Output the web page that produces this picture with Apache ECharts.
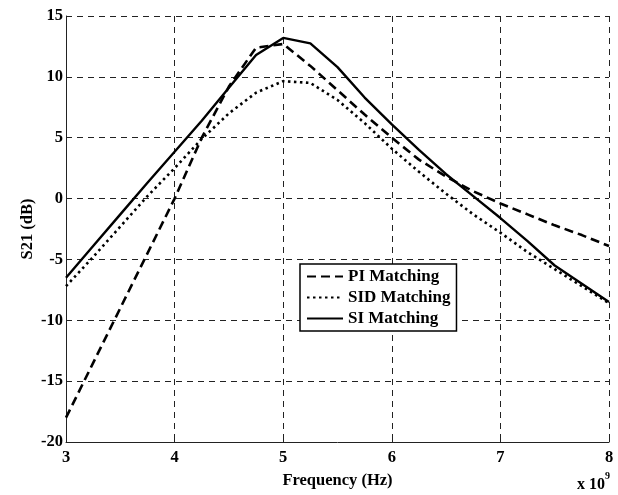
<!DOCTYPE html>
<html>
<head>
<meta charset="utf-8">
<script src="https://cdn.jsdelivr.net/npm/echarts@6/dist/echarts.min.js"></script>
<style>html,body{margin:0;padding:0;background:#fff}#c{width:618px;height:495px}</style>
</head>
<body>
<div id="c"></div>
<script>
var freq = [3, 3.25, 3.5, 3.75, 4, 4.25, 4.5, 4.75, 5, 5.25, 5.5, 5.75, 6, 6.25, 6.5, 6.75, 7, 7.25, 7.5, 7.75, 8];
var piMatching  = [-18, -13.5, -9, -4.5, 0, 5, 9.2, 12.4, 12.7, 10.9, 8.9, 6.9, 5.0, 3.2, 1.8, 0.6, -0.4, -1.3, -2.2, -3.0, -3.9];
var sidMatching = [-7.2, -4.8, -2.3, 0.2, 2.5, 4.9, 7.0, 8.7, 9.65, 9.5, 8.1, 6.2, 4.1, 2.2, 0.4, -1.3, -2.8, -4.4, -5.8, -7.2, -8.6];
var siMatching  = [-6.5, -3.9, -1.3, 1.3, 3.85, 6.4, 9.1, 11.8, 13.2, 12.75, 10.8, 8.3, 6.1, 4.0, 2.0, 0.2, -1.6, -3.5, -5.5, -7.0, -8.5];
var seriesNames = ['PI Matching', 'SID Matching', 'SI Matching'];
var xTicks = [3, 4, 5, 6, 7, 8];
var yTicks = [-20, -15, -10, -5, 0, 5, 10, 15];

function pairs(ys) { return freq.map(function (f, i) { return [f, ys[i]]; }); }
var font = "'Liberation Serif', 'Times New Roman', serif";
var chart = echarts.init(document.getElementById('c'));
chart.setOption({
  animation: false,
  backgroundColor: '#fff',
  grid: { left: 66, right: 9, top: 16, bottom: 53 },
  xAxis: {
    type: 'value', min: xTicks[0], max: xTicks[xTicks.length - 1], interval: 1,
    name: 'Frequency (Hz)', nameLocation: 'middle', nameGap: 30, nameMoveOverlap: false,
    nameTextStyle: { fontFamily: font, fontWeight: 'bold', fontSize: 16.5, color: '#000' },
    axisLine: { show: true, onZero: false, lineStyle: { color: '#222', width: 1 } },
    axisTick: { show: true, inside: true, length: 5, lineStyle: { color: '#222' } },
    axisLabel: { fontFamily: font, fontWeight: 'bold', fontSize: 16.5, color: '#000', margin: 7 },
    splitLine: { show: true, lineStyle: { color: '#222', type: [6, 5], width: 1 } }
  },
  yAxis: {
    type: 'value', min: yTicks[0], max: yTicks[yTicks.length - 1], interval: 5,
    name: 'S21 (dB)', nameLocation: 'middle', nameGap: 30, nameMoveOverlap: false,
    nameTextStyle: { fontFamily: font, fontWeight: 'bold', fontSize: 16.5, color: '#000' },
    axisLine: { show: true, onZero: false, lineStyle: { color: '#222', width: 1 } },
    axisTick: { show: true, inside: true, length: 5, lineStyle: { color: '#222' } },
    axisLabel: { fontFamily: font, fontWeight: 'bold', fontSize: 16.5, color: '#000', margin: 3 },
    splitLine: { show: true, lineStyle: { color: '#222', type: [6, 5], width: 1 } }
  },
  legend: {
    orient: 'vertical', left: 300, top: 264,
    padding: [4, 6, 4, 6], itemGap: 4, itemWidth: 36, itemHeight: 18,
    backgroundColor: '#fff', borderColor: '#000', borderWidth: 1.5, borderRadius: 0,
    itemStyle: { opacity: 0 },
    textStyle: { fontFamily: font, fontWeight: 'bold', fontSize: 17, color: '#000' },
    data: seriesNames
  },
  graphic: [{
    type: 'text', right: 8, top: 471,
    style: {
      text: '{b|x 10}{s|9}', fill: '#000',
      rich: {
        b: { fontFamily: font, fontWeight: 'bold', fontSize: 16, fill: '#000', verticalAlign: 'bottom', lineHeight: 22 },
        s: { fontFamily: font, fontWeight: 'bold', fontSize: 10, fill: '#000', verticalAlign: 'top', lineHeight: 22 }
      }
    }
  }],
  series: [
    { name: seriesNames[0], type: 'line', symbol: 'none', data: pairs(piMatching),
      lineStyle: { color: '#000', width: 2.6, type: [9, 5] }, itemStyle: { color: '#000' }, z: 3 },
    { name: seriesNames[1], type: 'line', symbol: 'none', data: pairs(sidMatching),
      lineStyle: { color: '#000', width: 2.6, type: [2.5, 3.5] }, itemStyle: { color: '#000' }, z: 3 },
    { name: seriesNames[2], type: 'line', symbol: 'none', data: pairs(siMatching),
      lineStyle: { color: '#000', width: 2.4, type: 'solid' }, itemStyle: { color: '#000' }, z: 3 }
  ]
});
</script>
</body>
</html>
